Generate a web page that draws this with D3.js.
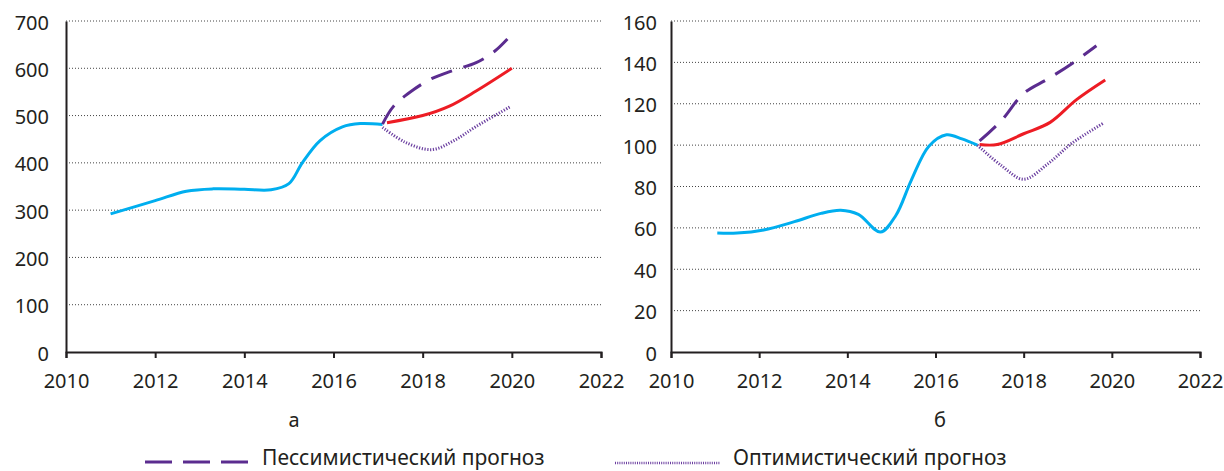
<!DOCTYPE html>
<html>
<head>
<meta charset="utf-8">
<script src="https://cdn.jsdelivr.net/npm/d3@7"></script>
<style>
  body { margin: 0; background: #fff; }
  svg text { font-family: "Noto Sans", sans-serif; fill: #231f20; }
</style>
</head>
<body>
<div id="chart"></div>
<script>
// Data: [year, value]
// panel а
var factA = [[2011, 292], [2012, 320], [2012.7, 340], [2013.3, 345], [2014, 344], [2014.6, 343],
             [2015, 356], [2015.3, 400], [2015.7, 447], [2016.2, 476], [2016.6, 483], [2017.1, 481]];
var baseA = [[2017.2, 485], [2018, 500], [2018.6, 520], [2019.2, 552], [2020, 600]];
var pessA = [[2017.1, 482], [2017.35, 520], [2017.8, 555], [2018.2, 578], [2018.7, 596],
             [2019.2, 612], [2019.6, 635], [2019.9, 662]];
var optA  = [[2017.1, 475], [2017.6, 444], [2018.2, 428], [2018.7, 447], [2019.2, 477], [2019.95, 518]];
// panel б
var factB = [[2011.05, 57.5], [2011.5, 57.5], [2012.1, 59], [2012.8, 63], [2013.4, 67], [2013.85, 68.5],
             [2014.25, 66.5], [2014.75, 58], [2015.1, 66], [2015.45, 83], [2015.85, 99.5],
             [2016.25, 105], [2016.6, 103], [2016.95, 100]];
var baseB = [[2017, 100.3], [2017.4, 100.3], [2018, 105.5], [2018.6, 111], [2019.2, 122], [2019.85, 131.5]];
var pessB = [[2017, 102], [2017.5, 112], [2018, 125], [2018.55, 132], [2019.1, 139.5], [2019.65, 148]];
var optB  = [[2016.95, 100], [2017.5, 90], [2018, 83.5], [2018.55, 91], [2019.1, 101], [2019.8, 110.5]];

var xTicks = [2010, 2012, 2014, 2016, 2018, 2020, 2022];
var yTicksA = [0, 100, 200, 300, 400, 500, 600, 700];
var yTicksB = [0, 20, 40, 60, 80, 100, 120, 140, 160];
var panelNames = ["а", "б"];
var legendNames = ["Пессимистический прогноз", "Оптимистический прогноз"];

var width = 1224, height = 471;
var svg = d3.select("#chart").append("svg")
  .attr("width", width).attr("height", height);

var colors = { fact: "#00aeef", base: "#ed1c24", pess: "#5b2c8f", opt: "#6b3fa0" };

function drawPanel(p) {
  var x = d3.scaleLinear().domain([2010, 2022]).range([p.left, p.right]);
  var y = d3.scaleLinear().domain([0, p.ymax]).range([p.bottom, p.top]);
  var g = svg.append("g");

  // dotted grid
  g.selectAll("line.grid")
    .data(p.yTicks.filter(function(d){ return d > 0; }))
    .enter().append("line")
    .attr("class", "grid")
    .attr("x1", p.left).attr("x2", p.right)
    .attr("y1", function(d){ return y(d); })
    .attr("y2", function(d){ return y(d); })
    .attr("stroke", "#444").attr("stroke-width", 1)
    .attr("stroke-dasharray", "1,2");

  // y axis
  var yAxis = d3.axisLeft(y).tickValues(p.yTicks).tickSize(0).tickPadding(p.yPad);
  var ya = g.append("g").attr("transform", "translate(" + p.left + ",0)").call(yAxis);
  ya.select(".domain").attr("stroke", "#231f20").attr("stroke-width", 2);
  ya.selectAll("text").attr("font-size", 20).attr("dy", "0.4em");

  // x axis
  var xAxis = d3.axisBottom(x).tickValues(xTicks).tickSize(6).tickSizeOuter(6).tickPadding(16)
    .tickFormat(d3.format("d"));
  var xa = g.append("g").attr("transform", "translate(0," + p.bottom + ")").call(xAxis);
  xa.select(".domain").attr("stroke", "#231f20").attr("stroke-width", 2);
  xa.selectAll(".tick line").attr("stroke", "#231f20").attr("stroke-width", 2);
  xa.selectAll("text").attr("font-size", 20);

  var line = d3.line()
    .x(function(d){ return x(d[0]); })
    .y(function(d){ return y(d[1]); })
    .curve(d3.curveCatmullRom.alpha(0.5));

  g.append("path").datum(p.fact).attr("d", line)
    .attr("fill", "none").attr("stroke", colors.fact).attr("stroke-width", 3);
  g.append("path").datum(p.base).attr("d", line)
    .attr("fill", "none").attr("stroke", colors.base).attr("stroke-width", 3);
  g.append("path").datum(p.pess).attr("d", line)
    .attr("fill", "none").attr("stroke", colors.pess).attr("stroke-width", 3)
    .attr("stroke-dasharray", "22,12");
  g.append("path").datum(p.opt).attr("d", line)
    .attr("fill", "none").attr("stroke", colors.opt).attr("stroke-width", 3)
    .attr("stroke-dasharray", "1.2,1.6");

  g.append("text").attr("x", p.labelX).attr("y", 427)
    .attr("text-anchor", "middle").attr("font-size", 20).text(p.name);
}

drawPanel({ left: 66, right: 601, top: 21, bottom: 352, ymax: 700, yTicks: yTicksA, yPad: 17,
            fact: factA, base: baseA, pess: pessA, opt: optA, name: panelNames[0], labelX: 294 });
drawPanel({ left: 671, right: 1200, top: 21, bottom: 352, ymax: 160, yTicks: yTicksB, yPad: 14,
            fact: factB, base: baseB, pess: pessB, opt: optB, name: panelNames[1], labelX: 940 });

// legend
var leg = svg.append("g");
leg.append("line").attr("x1", 145).attr("x2", 249).attr("y1", 462).attr("y2", 462)
  .attr("stroke", colors.pess).attr("stroke-width", 3).attr("stroke-dasharray", "27,11");
leg.append("text").attr("x", 262).attr("y", 465).attr("font-size", 21).text(legendNames[0]);
leg.append("line").attr("x1", 615).attr("x2", 720).attr("y1", 463).attr("y2", 463)
  .attr("stroke", colors.opt).attr("stroke-width", 2.5).attr("stroke-dasharray", "1,1.2");
leg.append("text").attr("x", 733).attr("y", 465).attr("font-size", 21).text(legendNames[1]);
</script>
</body>
</html>
